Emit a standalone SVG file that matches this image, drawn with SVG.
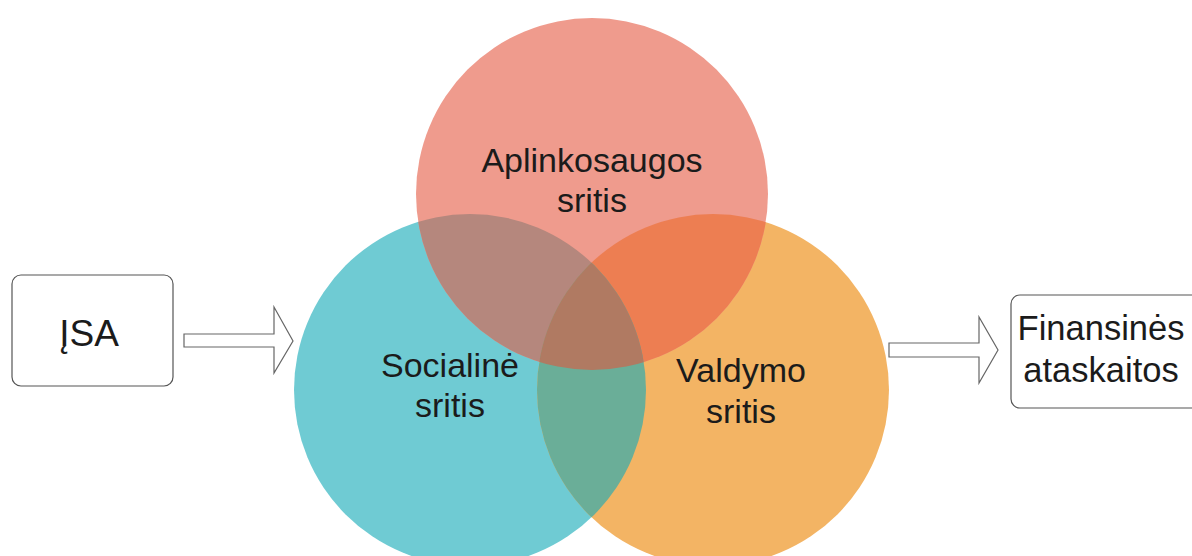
<svg xmlns="http://www.w3.org/2000/svg" width="1192" height="556" viewBox="0 0 1192 556">
  <style>
    .lbl { font-family: "Liberation Sans", Arial, sans-serif; fill: #1b1b1b; text-anchor: middle; }
    .box { fill: #ffffff; stroke: #555555; stroke-width: 1.2; }
    .arrow { fill: #ffffff; stroke: #666666; stroke-width: 1.2; stroke-linejoin: miter; }
  </style>
  <defs>
    <clipPath id="cTop"><circle cx="592" cy="194" r="176"/></clipPath>
    <clipPath id="cLeft"><circle cx="470" cy="390" r="176"/></clipPath>
    <clipPath id="cRight"><circle cx="713" cy="390" r="176"/></clipPath>
  </defs>
  <rect width="1192" height="556" fill="#ffffff"/>

  <!-- Venn circles -->
  <g id="venn">
    <circle id="social" cx="470" cy="390" r="176" fill="#6FCBD3"/>
    <circle id="governance" cx="713" cy="390" r="176" fill="#F3B464"/>
    <circle id="environment" cx="592" cy="194" r="176" fill="#EF9B8D"/>
    <circle cx="592" cy="194" r="176" fill="#B5877D" clip-path="url(#cLeft)"/>
    <circle cx="592" cy="194" r="176" fill="#ED7E52" clip-path="url(#cRight)"/>
    <circle cx="470" cy="390" r="176" fill="#6AAE98" clip-path="url(#cRight)"/>
    <g clip-path="url(#cRight)">
      <circle cx="592" cy="194" r="176" fill="#B07A62" clip-path="url(#cLeft)"/>
    </g>
  </g>

  <g id="label-environment">
    <text class="lbl" x="592" y="172" font-size="34">Aplinkosaugos</text>
    <text class="lbl" x="592" y="212" font-size="34">sritis</text>
  </g>
  <g id="label-social">
    <text class="lbl" x="450" y="377" font-size="34">Socialinė</text>
    <text class="lbl" x="450" y="417" font-size="34">sritis</text>
  </g>
  <g id="label-governance">
    <text class="lbl" x="741" y="382" font-size="34">Valdymo</text>
    <text class="lbl" x="741" y="423" font-size="34">sritis</text>
  </g>

  <!-- Input box -->
  <g id="isa">
    <rect class="box" x="12" y="275" width="161" height="111" rx="9"/>
    <text class="lbl" x="89" y="346" font-size="37">ĮSA</text>
  </g>

  <!-- Output box -->
  <g id="financial">
    <rect class="box" x="1011" y="295" width="200" height="113" rx="9"/>
    <text class="lbl" x="1101" y="340" font-size="34.5">Finansinės</text>
    <text class="lbl" x="1101" y="382" font-size="34.5">ataskaitos</text>
  </g>

  <!-- Block arrows -->
  <g id="connectors">
    <polygon class="arrow" points="184,334 274,334 274,307 293,341 274,373 274,347 184,347"/>
    <polygon class="arrow" points="889,343 979,343 979,317 998,350 979,383 979,357 889,357"/>
  </g>
</svg>
